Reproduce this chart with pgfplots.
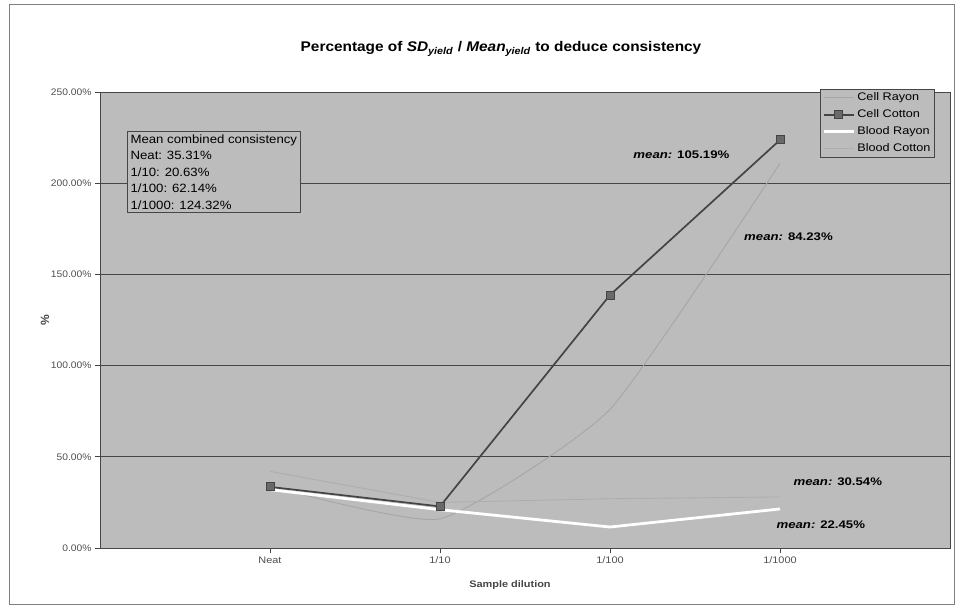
\documentclass[border=0pt]{standalone}
\usepackage{fontspec}
\setmainfont{Liberation Sans}
\usepackage{graphicx}
\usepackage{pgfplots}
\pgfplotsset{compat=1.18}

\definecolor{plotbg}{RGB}{188,188,188}
\definecolor{gridc}{RGB}{70,70,70}
\definecolor{cotton}{RGB}{68,68,68}
\definecolor{cottonfill}{RGB}{105,105,105}
\definecolor{faintA}{RGB}{166,166,166}
\definecolor{faintB}{RGB}{174,174,174}
\definecolor{ticktxt}{RGB}{80,80,80}

% text in this chart is set slightly wide
\newcommand\wide[2][1.15]{\scalebox{#1}[1]{#2}}

% series: Neat, 1/10, 1/100, 1/1000 at x = 0..3
\pgfplotstableread{
x y
0 34
1 16
2 76
3 210.9
}\cellrayon
\pgfplotstableread{
x y
0 33.5
1 22.8
2 138.7
3 223.7
}\cellcotton
\pgfplotstableread{
x y
0 32
1 21
2 11.5
3 21.4
}\bloodrayon
\pgfplotstableread{
x y
0 42
1 25
2 27
3 28
}\bloodcotton

\begin{document}
\begin{tikzpicture}[x=1pt,y=1pt]
\useasboundingbox (0,0) rectangle (980,608);
\fill[white] (0,0) rectangle (980,608);
\draw[gray, line width=0.6pt] (9,4) rectangle (954,604);
\begin{axis}[
  at={(100pt,60pt)}, anchor=south west,
  scale only axis, width=850pt, height=456pt,
  xmin=-1, xmax=4, ymin=0, ymax=250,
  axis background/.style={fill=plotbg},
  xtick={0,1,2,3},
  xticklabels={\wide{Neat},\wide{1/10},\wide{1/100},\wide{1/1000}},
  ytick={0,50,100,150,200,250},
  yticklabels={\wide[1.08]{0.00\%},\wide[1.08]{50.00\%},\wide[1.08]{100.00\%},
    \wide[1.08]{150.00\%},\wide[1.08]{200.00\%},\wide[1.08]{250.00\%}},
  ymajorgrids, grid style={gridc, line width=0.8pt},
  axis line style={gridc, line width=0.8pt},
  tick pos=left, tick align=outside, major tick length=5pt,
  tick style={gridc, line width=0.6pt},
  tick label style={font=\fontsize{9.5}{11}\selectfont, text=ticktxt},
  legend style={at={(0.982,1.007)}, anchor=north east, fill=plotbg,
    draw=gridc, font=\fontsize{11}{12}\selectfont, row sep=3.5pt,
    inner sep=2pt},
  legend cell align=left,
  legend image code/.code={%
    \draw[mark repeat=2,mark phase=2] plot coordinates {(0pt,0pt)(15pt,0pt)(30pt,0pt)};},
  clip=false,
]
\addplot[faintA, line width=0.9pt, smooth, tension=0.3, no markers] table {\cellrayon};
\addlegendentry{\wide{Cell Rayon}}
\addplot[cotton, line width=1.7pt, mark=square*, mark size=4pt,
  mark options={fill=cottonfill, draw=cotton, line width=1pt}] table {\cellcotton};
\addlegendentry{\wide{Cell Cotton}}
\addplot[white, line width=2.8pt, no markers] table {\bloodrayon};
\addlegendentry{\wide{Blood Rayon}}
\addplot[faintB, line width=0.9pt, no markers] table {\bloodcotton};
\addlegendentry{\wide{Blood Cotton}}

\node[draw=gridc, fill=plotbg, anchor=north west, align=left,
  font=\fontsize{12}{16.5}\selectfont, inner sep=3pt, line width=0.7pt]
  at (rel axis cs:0.032,0.914)
  {\wide[1.1]{Mean combined consistency}\\\wide[1.1]{Neat: 35.31\%}\\
   \wide[1.1]{1/10: 20.63\%}\\\wide[1.1]{1/100: 62.14\%}\\\wide[1.1]{1/1000: 124.32\%}};

\node[font=\fontsize{11}{12}\selectfont\bfseries] at (axis cs:2.42,215.5) {\wide[1.2]{\textit{mean:} 105.19\%}};
\node[font=\fontsize{11}{12}\selectfont\bfseries] at (axis cs:3.05,170.5) {\wide[1.2]{\textit{mean:} 84.23\%}};
\node[font=\fontsize{11}{12}\selectfont\bfseries] at (axis cs:3.34,36.2) {\wide[1.2]{\textit{mean:} 30.54\%}};
\node[font=\fontsize{11}{12}\selectfont\bfseries] at (axis cs:3.24,12.6) {\wide[1.2]{\textit{mean:} 22.45\%}};
\end{axis}
\node[font=\fontsize{14}{16}\selectfont\bfseries, anchor=base] at (501,556)
  {\wide[1.1]{Percentage of \textit{SD}\textsubscript{\textit{yield}} / \textit{Mean}\textsubscript{\textit{yield}} to deduce consistency}};
\node[font=\fontsize{12}{14}\selectfont\bfseries, rotate=90, text=gridc] at (45,288) {\%};
\node[font=\fontsize{9.5}{11}\selectfont\bfseries, text=gridc] at (510,23) {\wide{Sample dilution}};
\end{tikzpicture}
\end{document}
